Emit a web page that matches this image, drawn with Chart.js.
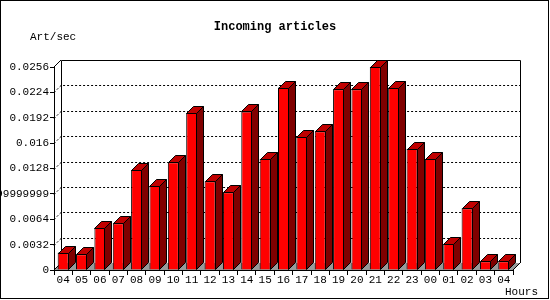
<!DOCTYPE html>
<html>
<head>
<meta charset="utf-8">
<script src="https://cdn.jsdelivr.net/npm/chart.js@4"></script>
<style>
  body { margin: 0; background: #fff; }
  canvas { display: block; }
</style>
</head>
<body>
<canvas id="chart" width="550" height="300"></canvas>
<script>
// data
const hours = ["04", "05", "06", "07", "08", "09", "10", "11", "12", "13", "14", "15", "16",
    "17", "18", "19", "20", "21", "22", "23", "00", "01", "02", "03", "04"];
const artPerSec = [0.0022, 0.0020, 0.0053, 0.0059, 0.0126, 0.0106, 0.0136, 0.0198, 0.0112,
    0.0098, 0.0200, 0.0140, 0.0230, 0.0168, 0.0175, 0.0228, 0.0228, 0.0256, 0.0230, 0.0153,
    0.0140, 0.0033, 0.0078, 0.0011, 0.0011];
const yTicks = [0, 0.0032, 0.0064, 0.0096, 0.0128, 0.016, 0.0192, 0.0224, 0.0256];
const yTickLabels = ["0", "0.0032", "0.0064", "0.0095999999999999", "0.0128", "0.016",
    "0.0192", "0.0224", "0.0256"];
const title = "Incoming articles";
const yTitle = "Art/sec";
const xTitle = "Hours";

const DX = 7, DY = 7;
const mono = "'Liberation Mono', 'DejaVu Sans Mono', monospace";

const threeD = {
    id: "threeD",
    beforeDatasetsDraw(chart) {
        const ctx = chart.ctx;
        const a = chart.chartArea;
        const y = chart.scales.y;
        ctx.save();
        // floor
        ctx.fillStyle = "#999999";
        ctx.beginPath();
        ctx.moveTo(a.left, a.bottom);
        ctx.lineTo(a.left + DX, a.bottom - DY);
        ctx.lineTo(a.right + DX, a.bottom - DY);
        ctx.lineTo(a.right, a.bottom);
        ctx.closePath();
        ctx.fill();
        ctx.strokeStyle = "#000";
        ctx.lineWidth = 1;
        // back wall outline
        const l = Math.round(a.left + DX) + 0.5;
        const r = Math.round(a.right + DX) + 0.5;
        const t = Math.round(a.top - DY) + 0.5;
        const b = Math.round(a.bottom - DY);
        ctx.beginPath();
        ctx.moveTo(l, b);
        ctx.lineTo(l, t);
        ctx.lineTo(r, t);
        ctx.lineTo(r, b);
        ctx.stroke();
        // edges tying front to back
        ctx.beginPath();
        ctx.moveTo(a.left, a.top);
        ctx.lineTo(a.left + DX, a.top - DY);
        ctx.moveTo(a.left, a.bottom);
        ctx.lineTo(a.left + DX, a.bottom - DY);
        ctx.moveTo(a.right, a.bottom);
        ctx.lineTo(a.right + DX, a.bottom - DY);
        ctx.stroke();
        // dotted grid on the back wall
        ctx.setLineDash([2, 2]);
        for (let i = 1; i < yTicks.length - 1; i++) {
            const py = Math.round(y.getPixelForValue(yTicks[i]));
            ctx.beginPath();
            ctx.moveTo(a.left, py + 0.5);
            ctx.lineTo(a.left + DX, py - DY + 0.5);
            ctx.lineTo(r, py - DY + 0.5);
            ctx.stroke();
        }
        ctx.restore();
    },
    afterDatasetsDraw(chart) {
        const ctx = chart.ctx;
        const meta = chart.getDatasetMeta(0);
        ctx.save();
        ctx.strokeStyle = "#000";
        ctx.lineWidth = 1;
        meta.data.forEach((bar) => {
            const left = Math.round(bar.x - bar.width / 2) + 0.5;
            const right = Math.round(bar.x + bar.width / 2) - 0.5;
            const top = Math.round(bar.y) + 0.5;
            const base = Math.round(bar.base) - 0.5;
            // top face
            ctx.fillStyle = "#c00000";
            ctx.beginPath();
            ctx.moveTo(left, top);
            ctx.lineTo(left + DX, top - DY);
            ctx.lineTo(right + DX, top - DY);
            ctx.lineTo(right, top);
            ctx.closePath();
            ctx.fill();
            ctx.stroke();
            // side face
            ctx.fillStyle = "#800000";
            ctx.beginPath();
            ctx.moveTo(right, top);
            ctx.lineTo(right + DX, top - DY);
            ctx.lineTo(right + DX, base - DY);
            ctx.lineTo(right, base);
            ctx.closePath();
            ctx.fill();
            ctx.stroke();
        });
        ctx.restore();
    },
    afterDraw(chart) {
        const ctx = chart.ctx;
        ctx.save();
        ctx.fillStyle = "#000";
        ctx.textBaseline = "middle";
        ctx.font = "bold 12px " + mono;
        ctx.textAlign = "center";
        ctx.fillText(title, 275, 27);
        ctx.font = "11px " + mono;
        ctx.textAlign = "left";
        ctx.fillText(yTitle, 30, 37);
        ctx.fillText(xTitle, 505, 292);
        ctx.strokeStyle = "#000";
        ctx.lineWidth = 1;
        ctx.strokeRect(0.5, 0.5, 548, 298);
        ctx.restore();
    },
};

new Chart(document.getElementById("chart"), {
    type: "bar",
    data: {
        labels: hours,
        datasets: [
            {
                label: "Art/sec",
                data: artPerSec,
                backgroundColor: "#ff0000",
                borderColor: "#000000",
                borderWidth: 1,
                categoryPercentage: 1,
                barPercentage: 0.6,
            },
        ],
    },
    options: {
        responsive: false,
        animation: false,
        devicePixelRatio: 1,
        layout: { padding: { left: 0, top: 67, right: 37, bottom: 0 } },
        plugins: {
            legend: { display: false },
            title: { display: false },
            tooltip: { enabled: false },
        },
        scales: {
            x: {
                offset: true,
                afterFit: (s) => { s.height = 30; },
                grid: {
                    offset: true,
                    drawOnChartArea: false,
                    color: "#000",
                    tickLength: 5,
                },
                border: { color: "#000" },
                ticks: {
                    color: "#000",
                    padding: -2,
                    maxRotation: 0,
                    autoSkip: false,
                    font: { family: mono, size: 11 },
                },
            },
            y: {
                min: 0,
                max: 0.0256,
                afterFit: (s) => { s.width = 54; },
                afterBuildTicks: (s) => { s.ticks = yTicks.map((v) => ({ value: v })); },
                grid: {
                    drawOnChartArea: false,
                    color: "#000",
                    tickLength: 4,
                },
                border: { color: "#000" },
                ticks: {
                    color: "#000",
                    padding: 1,
                    font: { family: mono, size: 11 },
                    callback: (v, i) => yTickLabels[i],
                },
            },
        },
    },
    plugins: [threeD],
});
</script>
</body>
</html>
